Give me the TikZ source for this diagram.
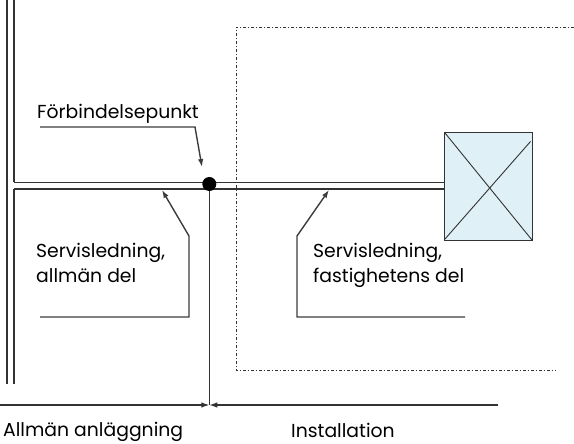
\documentclass[tikz,border=0pt]{standalone}
\usepackage{fontspec}
\setmainfont{Poppins}
\usetikzlibrary{arrows.meta}
\definecolor{linegray}{HTML}{333333}
\definecolor{leadgray}{HTML}{3C3C3C}
\definecolor{boxblue}{HTML}{DFF0F7}
\begin{document}
\begin{tikzpicture}[x=1pt,y=-1pt,
  pipe/.style={draw=linegray,line width=1.3pt},
  leader/.style={draw=leadgray,line width=1.4pt},
  tip/.style={-{Latex[length=8pt,width=5.5pt]}},
  lbl/.style={anchor=base west,inner sep=0pt,font=\fontsize{18.8}{25}\selectfont,align=left},
  border/.style={draw=linegray,line width=0.9pt,dash pattern=on 3pt off 2pt on 1pt off 2pt}]
\useasboundingbox (0,0) rectangle (574,444);
% left double line
\coordinate (l1t) at (7,0); \coordinate (l1b) at (7,384);
\coordinate (l2t) at (14,0); \coordinate (l2a) at (14,182.5);
\coordinate (l2c) at (14,189); \coordinate (l2b) at (14,384);
\draw[pipe] (l1t) -- (l1b);
\draw[pipe] (l2t) -- (l2a);
\draw[pipe] (l2c) -- (l2b);
% property boundary
\coordinate (b1) at (574,27); \coordinate (b2) at (236,27);
\coordinate (b3) at (236,370); \coordinate (b4) at (556,370);
\draw[border] (b1) -- (b2) -- (b3) -- (b4);
% building box
\node[draw=linegray,fill=boxblue,line width=1.3pt,minimum width=88pt,minimum height=108pt,inner sep=0pt] (box) at (488.7,186.7) {};
\coordinate (x1) at (445,133); \coordinate (x2) at (532,240);
\coordinate (x3) at (530.5,141.5); \coordinate (x4) at (445,239);
\draw[linegray,line width=0.9pt] (x1) -- (x2);
\draw[linegray,line width=0.9pt] (x3) -- (x4);
% service pipe
\coordinate (p1) at (14,182.5); \coordinate (p2) at (444.7,182.5);
\coordinate (p3) at (14,189); \coordinate (p4) at (444.7,189);
\draw[pipe] (p1) -- (p2);
\draw[pipe] (p3) -- (p4);
% connection point
\coordinate (v1) at (209.3,184); \coordinate (v2) at (209.3,405);
\draw[linegray,line width=1.1pt] (v1) -- (v2);
\node[circle,fill=black,inner sep=0pt,minimum size=14pt] (dot) at (209.3,184) {};
% bottom line
\coordinate (h1) at (0,405); \coordinate (h2) at (498,405);
\draw[linegray,line width=1.1pt,tip] (h1) -- (v2);
\draw[linegray,line width=1.1pt,tip] (h2) -- (v2);
% labels
\node[lbl] (fp) at (37,119) {Förbindelsepunkt};
\coordinate (fp1) at (40,127); \coordinate (fp2) at (195,127); \coordinate (fp3) at (202,167);
\draw[leader,tip] (fp1) -- (fp2) -- (fp3);
\node[lbl] (sa) at (36,282) {Servisledning,\\allmän del};
\coordinate (sa1) at (40,317); \coordinate (sa2) at (189,317);
\coordinate (sa3) at (189,236); \coordinate (sa4) at (162,190);
\draw[leader,tip] (sa1) -- (sa2) -- (sa3) -- (sa4);
\node[lbl] (sf) at (313,282) {Servisledning,\\fastighetens del};
\coordinate (sf1) at (465,317); \coordinate (sf2) at (297,317);
\coordinate (sf3) at (297,236); \coordinate (sf4) at (329,190);
\draw[leader,tip] (sf1) -- (sf2) -- (sf3) -- (sf4);
\node[lbl] (aa) at (3,436) {Allmän anläggning};
\node[lbl] (in) at (291,437.5) {Installation};
\end{tikzpicture}
\end{document}
